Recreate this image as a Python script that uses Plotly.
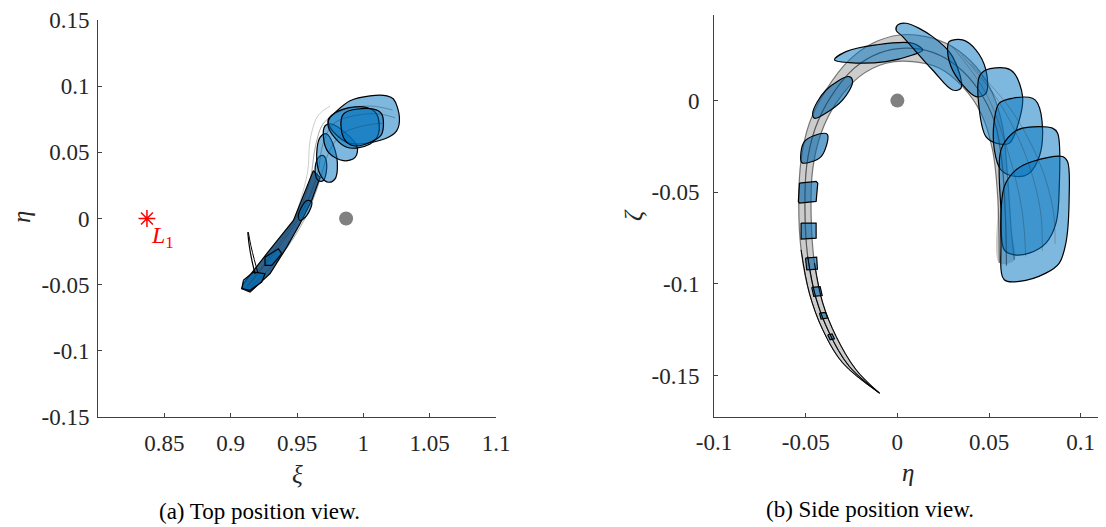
import plotly.graph_objects as go

# ---------------- data: left panel (xi, eta) ----------------
xi_ticks = [0.85, 0.9, 0.95, 1.0, 1.05, 1.1]
xi_ticktext = ["0.85", "0.9", "0.95", "1", "1.05", "1.1"]
eta_ticks_a = [0.15, 0.1, 0.05, 0.0, -0.05, -0.1, -0.15]
eta_ticktext_a = ["0.15", "0.1", "0.05", "0", "-0.05", "-0.1", "-0.15"]

L1_point = (0.8369, 0.0)
moon_a = (0.987, 0.0)

a_top_big = [(0.9737, 0.0752), (0.9774, 0.0789), (0.9900, 0.0890), (1.0051, 0.0927), (1.0177, 0.0927),
             (1.0227, 0.0903), (1.0272, 0.0764), (1.0252, 0.0664), (1.0177, 0.0608), (0.9975, 0.0563),
             (0.9875, 0.0575), (0.9749, 0.0688)]
a_top_mid = [(0.9749, 0.0764), (0.9850, 0.0827), (1.0026, 0.0839), (1.0101, 0.0789), (1.0114, 0.0639),
             (1.0051, 0.0563), (0.9875, 0.0538), (0.9737, 0.0688)]
a_top_inner = [(0.9850, 0.0789), (1.0076, 0.0827), (1.0139, 0.0789), (1.0139, 0.0639), (1.0076, 0.0588),
               (0.9925, 0.0550), (0.9850, 0.0613)]
a_neck = [(0.9712, 0.0701), (0.9762, 0.0714), (0.9951, 0.0550), (0.9938, 0.0462), (0.9850, 0.0437),
          (0.9737, 0.0500), (0.9699, 0.0613)]
a_long = [(0.9674, 0.0613), (0.9724, 0.0639), (0.9800, 0.0462), (0.9787, 0.0299), (0.9737, 0.0274),
          (0.9687, 0.0311), (0.9649, 0.0437)]
a_small = [(0.9661, 0.0462), (0.9699, 0.0475), (0.9724, 0.0412), (0.9699, 0.0287), (0.9661, 0.0287),
           (0.9636, 0.0362)]
a_low = [(0.9574, 0.0136), (0.9611, 0.0123), (0.9574, 0.0023), (0.9523, -0.0015), (0.9510, 0.0023)]
a_stem = [(0.9623, 0.0362), (0.9523, 0.0111), (0.9473, -0.0015), (0.9272, -0.0266), (0.9096, -0.0492),
          (0.9084, -0.0530), (0.9146, -0.0556), (0.9297, -0.0417), (0.9423, -0.0216), (0.9523, -0.0040),
          (0.9611, 0.0136), (0.9674, 0.0311)]
a_stem_mid = [(0.9259, -0.0292), (0.9360, -0.0229), (0.9385, -0.0266), (0.9310, -0.0354), (0.9259, -0.0354)]
a_stem_end = [(0.9096, -0.0467), (0.9171, -0.0405), (0.9259, -0.0417), (0.9234, -0.0480), (0.9146, -0.0543),
              (0.9084, -0.0530)]
a_hook_1 = [(0.9129, -0.0103), (0.9140, -0.0204), (0.9160, -0.0317), (0.9184, -0.0420)]
a_hook_2 = [(0.9133, -0.0103), (0.9152, -0.0204), (0.9178, -0.0310), (0.9205, -0.0410)]

a_traj_1 = [(0.912, -0.052), (0.932, -0.025), (0.950, 0.002), (0.960, 0.030), (0.964, 0.055), (0.970, 0.072),
            (0.985, 0.082), (1.005, 0.085), (1.022, 0.082)]
a_traj_2 = [(0.914, -0.050), (0.936, -0.022), (0.954, 0.005), (0.965, 0.032), (0.970, 0.058), (0.978, 0.072),
            (0.995, 0.078), (1.012, 0.079), (1.024, 0.076)]
a_traj_3 = [(0.915, -0.052), (0.938, -0.028), (0.956, 0.000), (0.966, 0.025), (0.974, 0.050), (0.984, 0.064),
            (1.000, 0.070), (1.015, 0.072)]
a_traj_4 = [(0.950, 0.005), (0.958, 0.035), (0.960, 0.060), (0.966, 0.078), (0.975, 0.085)]

# ---------------- data: right panel (eta, zeta) ----------------
eta_ticks_b = [-0.1, -0.05, 0.0, 0.05, 0.1]
eta_ticktext_b = ["-0.1", "-0.05", "0", "0.05", "0.1"]
zeta_ticks = [0.0, -0.05, -0.1, -0.15]
zeta_ticktext = ["0", "-0.05", "-0.1", "-0.15"]

moon_b = (0.0, 0.0)

b_arc_outer = [(-0.0098, -0.1595), (-0.0298, -0.1431), (-0.0407, -0.1250), (-0.0480, -0.1050), (-0.0525, -0.0814),
               (-0.0538, -0.0559), (-0.0525, -0.0323), (-0.0480, -0.0123), (-0.0389, 0.0058), (-0.0262, 0.0222),
               (-0.0135, 0.0313), (0.0011, 0.0358), (0.0156, 0.0349), (0.0301, 0.0294), (0.0429, 0.0185),
               (0.0519, 0.0040), (0.0574, -0.0142), (0.0601, -0.0414), (0.0621, -0.0705), (0.0638, -0.0869)]
b_arc_inner = [(-0.0098, -0.1595), (-0.0225, -0.1468), (-0.0334, -0.1286), (-0.0407, -0.1104), (-0.0452, -0.0886),
               (-0.0470, -0.0632), (-0.0462, -0.0378), (-0.0416, -0.0178), (-0.0334, -0.0014), (-0.0207, 0.0131),
               (-0.0062, 0.0204), (0.0083, 0.0213), (0.0229, 0.0177), (0.0356, 0.0076), (0.0456, -0.0069),
               (0.0519, -0.0269), (0.0547, -0.0523), (0.0556, -0.0886)]
b_arc_mid = [(-0.0098, -0.1595), (-0.0262, -0.1450), (-0.0371, -0.1268), (-0.0444, -0.1077), (-0.0489, -0.0850),
             (-0.0504, -0.0596), (-0.0494, -0.0351), (-0.0448, -0.0151), (-0.0362, 0.0022), (-0.0235, 0.0177),
             (-0.0099, 0.0259), (0.0047, 0.0286), (0.0193, 0.0263), (0.0329, 0.0185), (0.0443, 0.0058),
             (0.0530, -0.0115), (0.0570, -0.0333), (0.0590, -0.0650), (0.0595, -0.0900)]
b_fan_1 = [(0.0301, 0.0294), (0.0483, 0.0040), (0.0610, -0.0300), (0.0680, -0.0600), (0.0700, -0.0850)]
b_fan_2 = [(0.0350, 0.0250), (0.0550, 0.0000), (0.0700, -0.0300), (0.0780, -0.0600), (0.0790, -0.0820)]
b_fan_3 = [(0.0400, 0.0200), (0.0620, -0.0050), (0.0780, -0.0350), (0.0850, -0.0600), (0.0860, -0.0780)]

b_ell_1 = [(-0.0343, 0.0222), (-0.0280, 0.0267), (-0.0116, 0.0304), (0.0083, 0.0313), (0.0138, 0.0276),
           (0.0083, 0.0249), (-0.0062, 0.0213), (-0.0262, 0.0207)]
b_ell_2 = [(0.0002, 0.0413), (0.0047, 0.0422), (0.0192, 0.0349), (0.0301, 0.0240), (0.0347, 0.0068),
           (0.0301, 0.0058), (0.0192, 0.0167), (0.0029, 0.0349), (-0.0007, 0.0385)]
b_ell_3 = [(0.0283, 0.0322), (0.0356, 0.0331), (0.0429, 0.0276), (0.0483, 0.0167), (0.0483, 0.0040),
           (0.0429, 0.0022), (0.0356, 0.0086), (0.0293, 0.0185), (0.0274, 0.0294)]
b_ell_4 = [(0.0447, 0.0131), (0.0483, 0.0167), (0.0592, 0.0177), (0.0638, 0.0149), (0.0683, 0.0022),
           (0.0665, -0.0105), (0.0610, -0.0232), (0.0538, -0.0232), (0.0483, -0.0196), (0.0447, -0.0051)]
b_ell_5 = [(0.0529, -0.0105), (0.0556, -0.0014), (0.0628, 0.0013), (0.0737, 0.0013), (0.0765, -0.0014),
           (0.0792, -0.0160), (0.0774, -0.0305), (0.0719, -0.0396), (0.0647, -0.0414), (0.0565, -0.0378),
           (0.0529, -0.0269)]
b_ell_6 = [(0.0565, -0.0269), (0.0628, -0.0178), (0.0683, -0.0150), (0.0846, -0.0150), (0.0874, -0.0178),
           (0.0883, -0.0469), (0.0865, -0.0668), (0.0810, -0.0777), (0.0719, -0.0832), (0.0638, -0.0841),
           (0.0583, -0.0814), (0.0565, -0.0596)]
b_ell_7 = [(0.0583, -0.0469), (0.0647, -0.0378), (0.0737, -0.0332), (0.0901, -0.0305), (0.0928, -0.0332),
           (0.0937, -0.0523), (0.0919, -0.0777), (0.0883, -0.0886), (0.0810, -0.0941), (0.0665, -0.0986),
           (0.0583, -0.0977), (0.0565, -0.0777)]
b_seg_1 = [(-0.0462, -0.0069), (-0.0389, 0.0058), (-0.0262, 0.0131), (-0.0244, 0.0104), (-0.0298, 0.0004),
           (-0.0407, -0.0078), (-0.0452, -0.0096)]
b_seg_2 = [(-0.0525, -0.0332), (-0.0507, -0.0223), (-0.0398, -0.0178), (-0.0380, -0.0187), (-0.0416, -0.0305),
           (-0.0516, -0.0341)]
b_seg_3 = [(-0.0534, -0.0450), (-0.0443, -0.0441), (-0.0434, -0.0450), (-0.0443, -0.0550), (-0.0534, -0.0559),
           (-0.0540, -0.0550)]
b_seg_4 = [(-0.0525, -0.0668), (-0.0443, -0.0668), (-0.0443, -0.0750), (-0.0525, -0.0755)]
b_seg_5 = [(-0.0501, -0.0859), (-0.0440, -0.0854), (-0.0436, -0.0919), (-0.0494, -0.0923)]
b_seg_6 = [(-0.0467, -0.1019), (-0.0421, -0.1014), (-0.0410, -0.1063), (-0.0456, -0.1068)]
b_seg_7 = [(-0.0425, -0.1159), (-0.0392, -0.1155), (-0.0380, -0.1186), (-0.0416, -0.1191)]
b_seg_8 = [(-0.0380, -0.1277), (-0.0356, -0.1272), (-0.0343, -0.1299), (-0.0367, -0.1304)]

# ---------------- styles ----------------
BLUE = "rgba(0,114,189,0.5)"
DARK = "rgba(10,70,120,0.85)"
SERIF = "Liberation Serif"
AX = "#404040"
TXT = "#262626"

fig = go.Figure()


def closed(pts):
    xs = [p[0] for p in pts] + [pts[0][0]]
    ys = [p[1] for p in pts] + [pts[0][1]]
    return xs, ys


def blob(pts, xa, ya, fill=BLUE, shape="spline", width=1.2):
    xs, ys = closed(pts)
    fig.add_trace(go.Scatter(x=xs, y=ys, mode="lines", fill="toself", fillcolor=fill,
                             line=dict(color="black", width=width, shape=shape, smoothing=1.0),
                             xaxis=xa, yaxis=ya, hoverinfo="skip"))


def line(pts, xa, ya, color="rgba(60,60,60,0.35)", width=1.0):
    fig.add_trace(go.Scatter(x=[p[0] for p in pts], y=[p[1] for p in pts], mode="lines",
                             line=dict(color=color, width=width, shape="spline"),
                             xaxis=xa, yaxis=ya, hoverinfo="skip"))


# ----- left panel -----
for tr in (a_traj_1, a_traj_2, a_traj_3, a_traj_4):
    line(tr, "x", "y", color="rgba(90,90,90,0.3)")
blob(a_stem, "x", "y", fill=DARK, shape="linear")
for b in (a_stem_mid, a_stem_end):
    blob(b, "x", "y", fill="rgba(0,114,189,0.6)", shape="linear")
for b in (a_low, a_small, a_long, a_neck, a_top_big, a_top_mid, a_top_inner):
    blob(b, "x", "y")
for tr in (a_traj_1, a_traj_2, a_traj_3):
    line(tr, "x", "y", color="rgba(40,40,40,0.25)", width=0.8)
line(a_hook_1, "x", "y", color="black", width=1.2)
line(a_hook_2, "x", "y", color="black", width=1.0)

fig.add_trace(go.Scatter(x=[moon_a[0]], y=[moon_a[1]], mode="markers",
                         marker=dict(color="#808080", size=14), xaxis="x", yaxis="y", hoverinfo="skip"))
fig.add_trace(go.Scatter(x=[L1_point[0]], y=[L1_point[1]], mode="markers",
                         marker=dict(symbol="asterisk-open", color="red", size=14,
                                     line=dict(color="red", width=1.5)),
                         xaxis="x", yaxis="y", hoverinfo="skip"))

# ----- right panel -----
band_x = [p[0] for p in b_arc_outer] + [p[0] for p in reversed(b_arc_inner)]
band_y = [p[1] for p in b_arc_outer] + [p[1] for p in reversed(b_arc_inner)]
fig.add_trace(go.Scatter(x=band_x, y=band_y, mode="lines", fill="toself",
                         fillcolor="rgba(0,0,0,0.2)", line=dict(width=0, shape="spline"),
                         xaxis="x2", yaxis="y2", hoverinfo="skip"))
for tr in (b_arc_outer, b_arc_inner, b_arc_mid):
    line(tr, "x2", "y2", color="rgba(40,40,40,0.6)", width=1.2)

for b in (b_seg_1, b_seg_2):
    blob(b, "x2", "y2", fill="rgba(0,100,170,0.6)")
for b in (b_seg_3, b_seg_4, b_seg_5, b_seg_6, b_seg_7, b_seg_8):
    blob(b, "x2", "y2", fill="rgba(0,100,170,0.6)", shape="linear")
for b in (b_ell_1, b_ell_2, b_ell_3, b_ell_4, b_ell_5, b_ell_6, b_ell_7):
    blob(b, "x2", "y2")
for tr in (b_fan_1, b_fan_2, b_fan_3, b_arc_mid):
    line(tr, "x2", "y2", color="rgba(40,40,40,0.3)", width=0.9)
line(b_arc_outer[:5], "x2", "y2", color="black", width=1.0)
line(b_arc_inner[:5], "x2", "y2", color="black", width=1.0)
line(b_arc_mid[:5], "x2", "y2", color="black", width=1.0)

fig.add_trace(go.Scatter(x=[moon_b[0]], y=[moon_b[1]], mode="markers",
                         marker=dict(color="#808080", size=14), xaxis="x2", yaxis="y2", hoverinfo="skip"))

# page body adds an 8px offset; the figure is sized to fit inside the window
OFF = 8
W, H = 1106 - OFF, 527 - OFF


def px(x):
    return (x - OFF) / W


def py(y):
    return 1 - (y - OFF) / H


axis_common = dict(showgrid=False, zeroline=False, showline=True, linecolor=AX, linewidth=1,
                   ticks="inside", ticklen=4, tickcolor=AX, tickwidth=1, automargin=False,
                   tickfont=dict(family=SERIF, size=23, color=TXT), tickmode="array")

fig.update_layout(
    width=W, height=H, margin=dict(l=0, r=0, t=0, b=0, autoexpand=False),
    paper_bgcolor="white", plot_bgcolor="white", showlegend=False,
    xaxis=dict(domain=[px(98), px(496)], range=[0.8, 1.1], tickvals=xi_ticks, ticktext=xi_ticktext,
               anchor="y", ticklabelstandoff=5, **axis_common),
    yaxis=dict(domain=[py(417), py(20)], range=[-0.15, 0.15], tickvals=eta_ticks_a, ticktext=eta_ticktext_a,
               anchor="x", ticklabelstandoff=3, **axis_common),
    xaxis2=dict(domain=[px(714), px(1102)], range=[-0.1, 0.1116], tickvals=eta_ticks_b,
                ticktext=eta_ticktext_b, anchor="y2", ticklabelstandoff=5, **axis_common),
    yaxis2=dict(domain=[py(416.7), py(15)], range=[-0.1724, 0.0467], tickvals=zeta_ticks,
                ticktext=zeta_ticktext, anchor="x2", ticklabelstandoff=9, **axis_common),
)

ann_font = dict(family=SERIF, size=25, color=TXT)
annotations = [
    dict(text="<i>η</i>", x=px(21), y=py(217), textangle=-90, font=ann_font),
    dict(text="<i>ξ</i>", x=px(297), y=py(474), font=ann_font),
    dict(text="<i>ζ</i>", x=px(633), y=py(215), textangle=-90, font=ann_font),
    dict(text="<i>η</i>", x=px(908), y=py(472), font=ann_font),
    dict(text="(a) Top position view.", x=px(259), y=py(511), font=dict(family=SERIF, size=23, color="black")),
    dict(text="(b) Side position view.", x=px(870), y=py(509), font=dict(family=SERIF, size=23, color="black")),
]
for a in annotations:
    fig.add_annotation(xref="paper", yref="paper", showarrow=False, xanchor="center", yanchor="middle",
                       borderpad=0, **a)

fig.add_annotation(x=L1_point[0], y=L1_point[1], xref="x", yref="y", showarrow=False,
                   text="<i>L</i><sub>1</sub>", xanchor="left", yanchor="top", xshift=2, yshift=-1,
                   font=dict(family=SERIF, size=24, color="red"))

fig.write_html("out.html")
